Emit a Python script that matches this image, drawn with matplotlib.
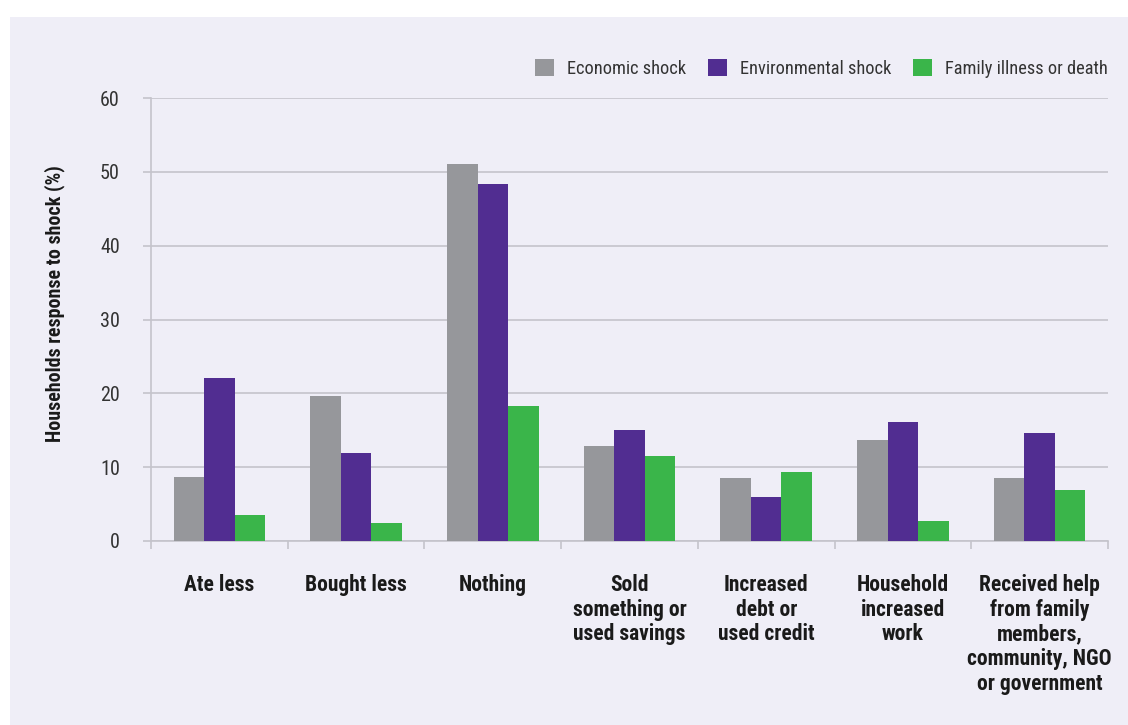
import matplotlib
matplotlib.use("Agg")
import matplotlib.pyplot as plt
from matplotlib import font_manager as fm
from matplotlib.patches import Rectangle
import numpy as np

categories = ["Ate less", "Bought less", "Nothing",
              "Sold\nsomething or\nused savings",
              "Increased\ndebt or\nused credit",
              "Household\nincreased\nwork",
              "Received help\nfrom family\nmembers,\ncommunity, NGO\nor government"]
series_names = ["Economic shock", "Environmental shock", "Family illness or death"]
economic = [8.7, 19.6, 51.1, 12.9, 8.5, 13.7, 8.5]
environmental = [22.1, 11.9, 48.3, 15.0, 6.0, 16.1, 14.6]
family = [3.5, 2.4, 18.3, 11.5, 9.4, 2.7, 6.9]
yticks = [0, 10, 20, 30, 40, 50, 60]

colors = ["#96979B", "#512D91", "#3AB54A"]

# pick a condensed face if one is installed
entries = fm.fontManager.ttflist
names = {f.name for f in entries}
stretch = "normal"
if "Roboto Condensed" in names:
    fam, k = "Roboto Condensed", 1.0
elif "Liberation Sans Narrow" in names:
    fam, k = "Liberation Sans Narrow", 1.0
elif any(f.name == "DejaVu Sans" and str(f.stretch) in ("condensed", "semi-condensed")
         for f in entries):
    fam, k, stretch = "DejaVu Sans", 0.86, "condensed"
else:
    fam, k = "Roboto", 0.87
plt.rcParams["font.family"] = [fam, "DejaVu Sans"]
plt.rcParams["font.stretch"] = stretch

W, H = 1128, 725
fig = plt.figure(figsize=(W / 100, H / 100), dpi=100)
fig.patches.append(Rectangle((10 / W, 0), 1 - 10 / W, 1 - 17 / H,
                             transform=fig.transFigure, facecolor="#EFEEF7",
                             edgecolor="none", zorder=-10))

ax = fig.add_axes([151 / W, 1 - 541 / H, (1108 - 151) / W, (541 - 98) / H])
ax.set_facecolor("none")

x = np.arange(len(categories))
bw = 0.223
data = [economic, environmental, family]
for i, (vals, name, c) in enumerate(zip(data, series_names, colors)):
    ax.bar(x + (i - 1) * bw, vals, width=bw, color=c, label=name, zorder=3)

ax.set_xlim(-0.5, len(categories) - 0.5)
ax.set_ylim(0, 60)
grid_c = "#C4C3CB"
ax.set_yticks(yticks)
ax.set_yticklabels([str(v) for v in yticks])
ax.yaxis.grid(True, color=grid_c, linewidth=1.2, zorder=0)
ax.tick_params(axis="y", length=5.5, width=1.2, color=grid_c, pad=17,
               labelsize=14.5 * k, labelcolor="#333333")

ax.set_xticks(x)
ax.set_xticklabels(categories, fontsize=15.5 * k, fontweight="bold", color="#1a1a1a",
                   linespacing=1.15, va="top")
ax.tick_params(axis="x", which="major", length=0, pad=24)
ax.set_xticks(np.arange(len(categories) + 1) - 0.5, minor=True)
ax.tick_params(axis="x", which="minor", length=6, width=1.2, color=grid_c)

for s in ["top", "right"]:
    ax.spines[s].set_visible(False)
for s in ["left", "bottom"]:
    ax.spines[s].set_color(grid_c)
    ax.spines[s].set_linewidth(1.2)
ax.spines["left"].set_zorder(1)

fig.text(55 / W, 1 - 304 / H, "Households response to shock (%)", rotation=90,
         ha="center", va="center", fontsize=14.4 * k, fontweight="bold", color="#1a1a1a")

leg = ax.legend(loc="center right", bbox_to_anchor=(1108 / W, 1 - 68.5 / H),
                bbox_transform=fig.transFigure, ncol=3, frameon=False,
                fontsize=13.2 * k, handlelength=1.04 / k, handleheight=1.04 / k,
                handletextpad=0.71 / k, columnspacing=1.2 / k, borderpad=0,
                borderaxespad=0)
for t in leg.get_texts():
    t.set_color("#333333")

fig.savefig("out.png", dpi=100)
